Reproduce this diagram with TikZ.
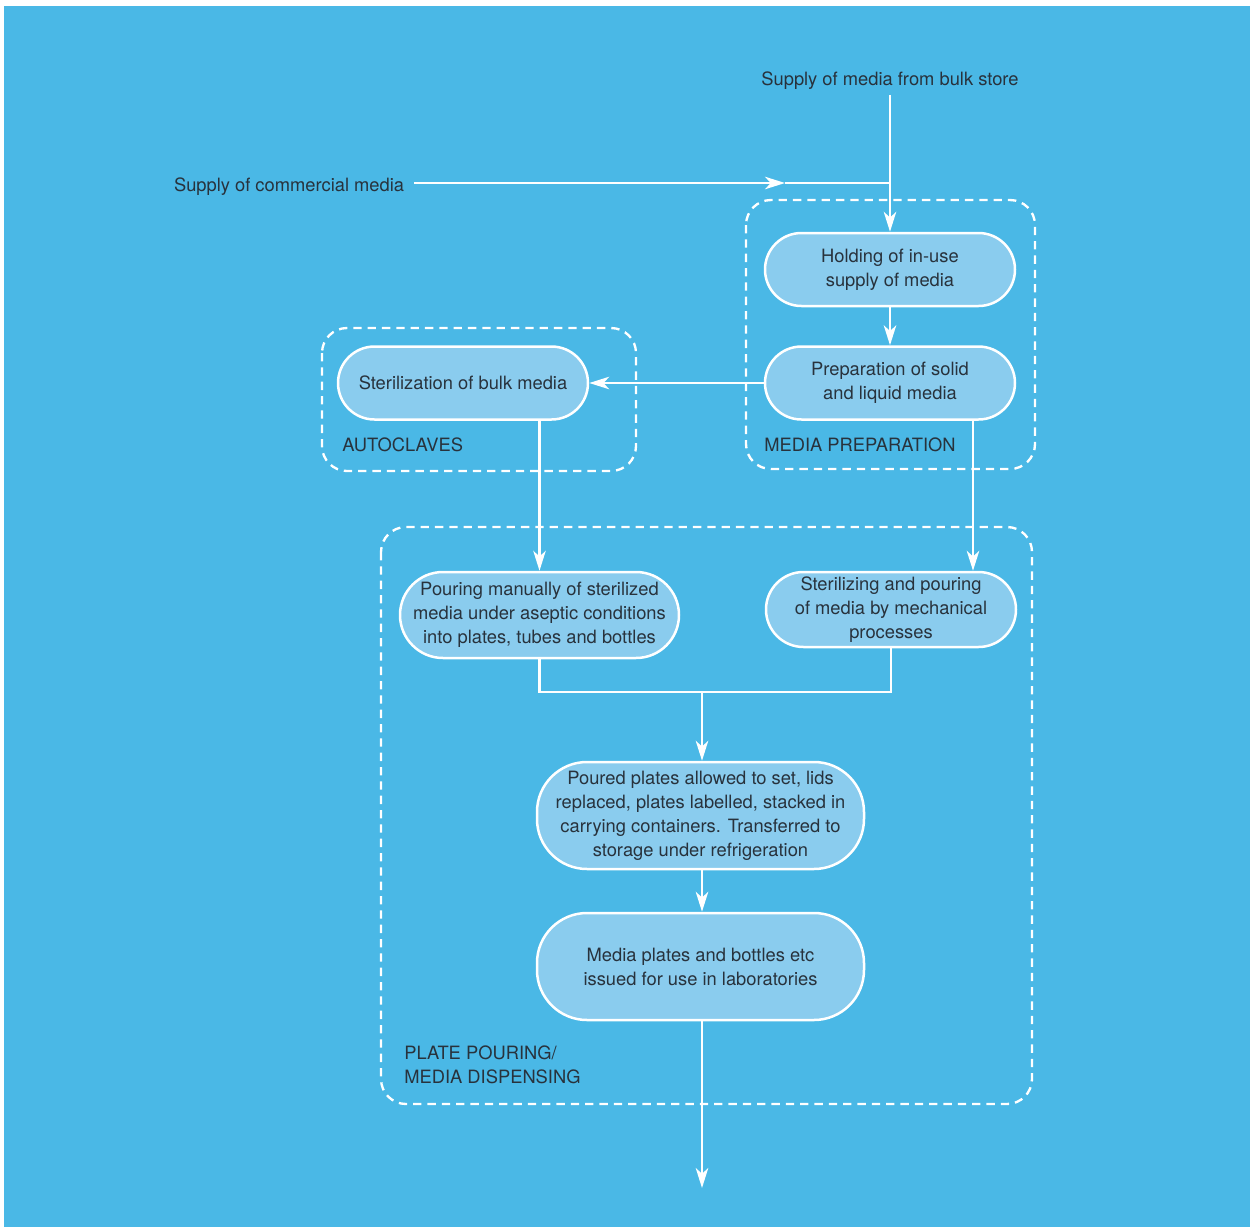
\documentclass[tikz,border=0pt]{standalone}
\usepackage{fontspec}
\setmainfont{TeX Gyre Heros}
\usetikzlibrary{arrows.meta}
\definecolor{bgblue}{RGB}{74,184,230}
\definecolor{nodeblue}{RGB}{138,204,238}
\definecolor{txt}{RGB}{40,50,60}
\begin{document}
\begin{tikzpicture}[x=0.6pt,y=-0.6pt,
  font=\fontsize{11}{14.4}\selectfont, text=txt,
  proc/.style={draw=white, line width=1.5pt, fill=nodeblue, align=center,
    minimum width=150pt, minimum height=43.8pt, rounded corners=21.9pt, inner sep=2pt},
  zone/.style={draw=white, line width=1.4pt, dash pattern=on 5pt off 3.6pt, rounded corners=15pt},
  flow/.style={draw=white, line width=1.5pt},
  tip/.style={-{Stealth[length=12pt,width=7.5pt,inset=3.5pt]}},
  lbl/.style={inner sep=0pt, align=left}]
\useasboundingbox (0,0) rectangle (1250,1227);
\fill[white] (0,0) rectangle (1250,1227);
\fill[bgblue] (4,6) rectangle (1250,1227);

% zones
\draw[zone] (746,200) rectangle (1035,469);
\draw[zone] (322,328) rectangle (636,471);
\draw[zone] (381,527) rectangle (1032,1104);

% nodes
\node[proc] (hold) at (890,269.5) {Holding of in-use\\supply of media};
\node[proc] (prep) at (890,383) {Preparation of solid\\and liquid media};
\node[proc] (bulk) at (463,383) {Sterilization of bulk media};
\node[proc, minimum width=167.4pt, minimum height=51.6pt, rounded corners=25.8pt] (pour) at (539.5,615) {Pouring manually of sterilized\\media under aseptic conditions\\into plates, tubes and bottles};
\node[proc, minimum height=45pt, rounded corners=22.5pt] (mech) at (891,609.5) {Sterilizing and pouring\\of media by mechanical\\processes};
\node[proc, minimum width=196.2pt, minimum height=64.2pt, rounded corners=30pt] (poured) at (700.5,815.5) {Poured plates allowed to set, lids\\replaced, plates labelled, stacked in\\carrying containers. Transferred to\\storage under refrigeration};
\node[proc, minimum width=196.2pt, minimum height=64.2pt, rounded corners=30pt] (issue) at (700.5,966.5) {Media plates and bottles etc\\issued for use in laboratories};

% labels
\node[lbl, anchor=base west] (lprep) at (764,451) {MEDIA PREPARATION};
\node[lbl, anchor=base west] (lauto) at (342,451) {AUTOCLAVES};
\node[lbl, anchor=north west] (lplate) at (404,1045) {PLATE POURING/\\MEDIA DISPENSING};
\node[anchor=base] (store) at (890,85) {Supply of media from bulk store};
\node[anchor=base east] (comm) at (410,191) {Supply of commercial media};

% coordinates
\coordinate (jtop) at (890,183);
\coordinate (cs) at (414,183);
\coordinate (mid) at (785,183);
\coordinate (xr) at (973,0);
\coordinate (jbot) at (702,692);
\coordinate (out) at (702,1188);

% connectors
\draw[flow, tip] (store.south) -- (hold.north);
\draw[flow, tip] (cs) -- (mid);
\draw[flow] (mid) -- (jtop);
\draw[flow, tip] (hold) -- (prep);
\draw[flow, tip] (prep.west) -- (bulk.east);
\draw[flow, tip] (bulk.south -| pour.north) -- (pour.north);
\draw[flow, tip] (prep.south -| xr) -- (mech.north -| xr);
\draw[flow] (pour.south) -- (pour.south |- jbot) -- (mech.south |- jbot) -- (mech.south);
\draw[flow, tip] (jbot) -- (poured.north -| jbot);
\draw[flow, tip] (poured.south -| jbot) -- (issue.north -| jbot);
\draw[flow, tip] (issue.south -| jbot) -- (out);
\end{tikzpicture}
\end{document}
